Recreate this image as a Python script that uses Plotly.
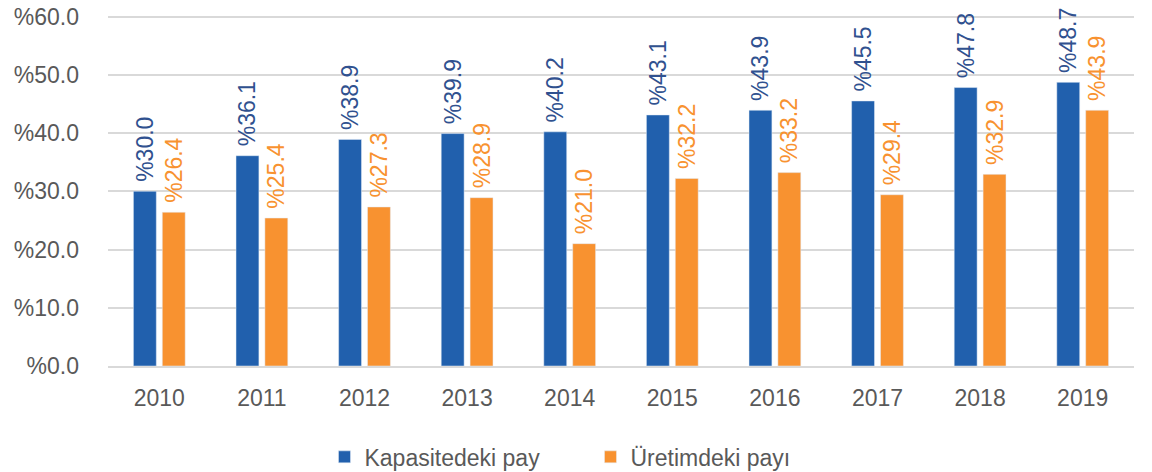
import plotly.graph_objects as go

years = ['2010', '2011', '2012', '2013', '2014', '2015', '2016', '2017', '2018', '2019']
kapasite = [30.0, 36.1, 38.9, 39.9, 40.2, 43.1, 43.9, 45.5, 47.8, 48.7]
uretim = [26.4, 25.4, 27.3, 28.9, 21.0, 32.2, 33.2, 29.4, 32.9, 43.9]
y_ticks = [0, 10, 20, 30, 40, 50, 60]
y_labels = ['%' + f'{v:.1f}' for v in y_ticks]

FONT = 'Liberation Sans'
GRAY = '#595959'

# a leading no-break space keeps the rotated label a little above the bar
def bar_labels(values):
    return ['\u00a0%' + f'{v:.1f}' for v in values]

fig = go.Figure()

fig.add_trace(go.Bar(
    x=years,
    y=kapasite,
    name='Kapasitedeki pay',
    marker_color='#2160AD',
    text=bar_labels(kapasite),
    textposition='outside',
    textangle=-90,
    constraintext='none',
    textfont=dict(color='#30518F', size=23, family=FONT),
    cliponaxis=False,
))

fig.add_trace(go.Bar(
    x=years,
    y=uretim,
    name='Üretimdeki payı',
    marker_color='#F89230',
    text=bar_labels(uretim),
    textposition='outside',
    textangle=-90,
    constraintext='none',
    textfont=dict(color='#F89230', size=23, family=FONT),
    cliponaxis=False,
))

fig.update_layout(
    width=1152,
    height=472,
    margin=dict(l=108, r=18, t=13, b=106),
    plot_bgcolor='white',
    paper_bgcolor='white',
    barmode='group',
    bargap=0.437,
    bargroupgap=0.207,
    font=dict(family=FONT, size=23, color=GRAY),
    legend=dict(
        orientation='h',
        x=0.211,
        xanchor='left',
        yref='container',
        y=0.032,
        yanchor='middle',
        font=dict(size=23, color=GRAY),
        entrywidth=221,
    ),
    showlegend=True,
)

fig.update_xaxes(
    type='category',
    automargin=False,
    showline=True,
    linecolor='#D9D9D9',
    linewidth=2,
    ticks='',
    ticklabelstandoff=10,
    tickfont=dict(size=23, color=GRAY),
)

# a little headroom above 60 so plotly keeps the top gridline
fig.update_yaxes(
    range=[0, 60.6],
    automargin=False,
    tickvals=y_ticks,
    ticktext=y_labels,
    showgrid=True,
    gridcolor='#D9D9D9',
    gridwidth=1.5,
    zeroline=False,
    ticks='',
    ticklabelstandoff=28,
    tickfont=dict(size=23, color=GRAY),
)

# drop the default 8px page margin so the figure sits at the window corner
fig.write_html(
    "out.html",
    config={'displayModeBar': False},
    post_script="document.body.style.margin = '0';",
)
